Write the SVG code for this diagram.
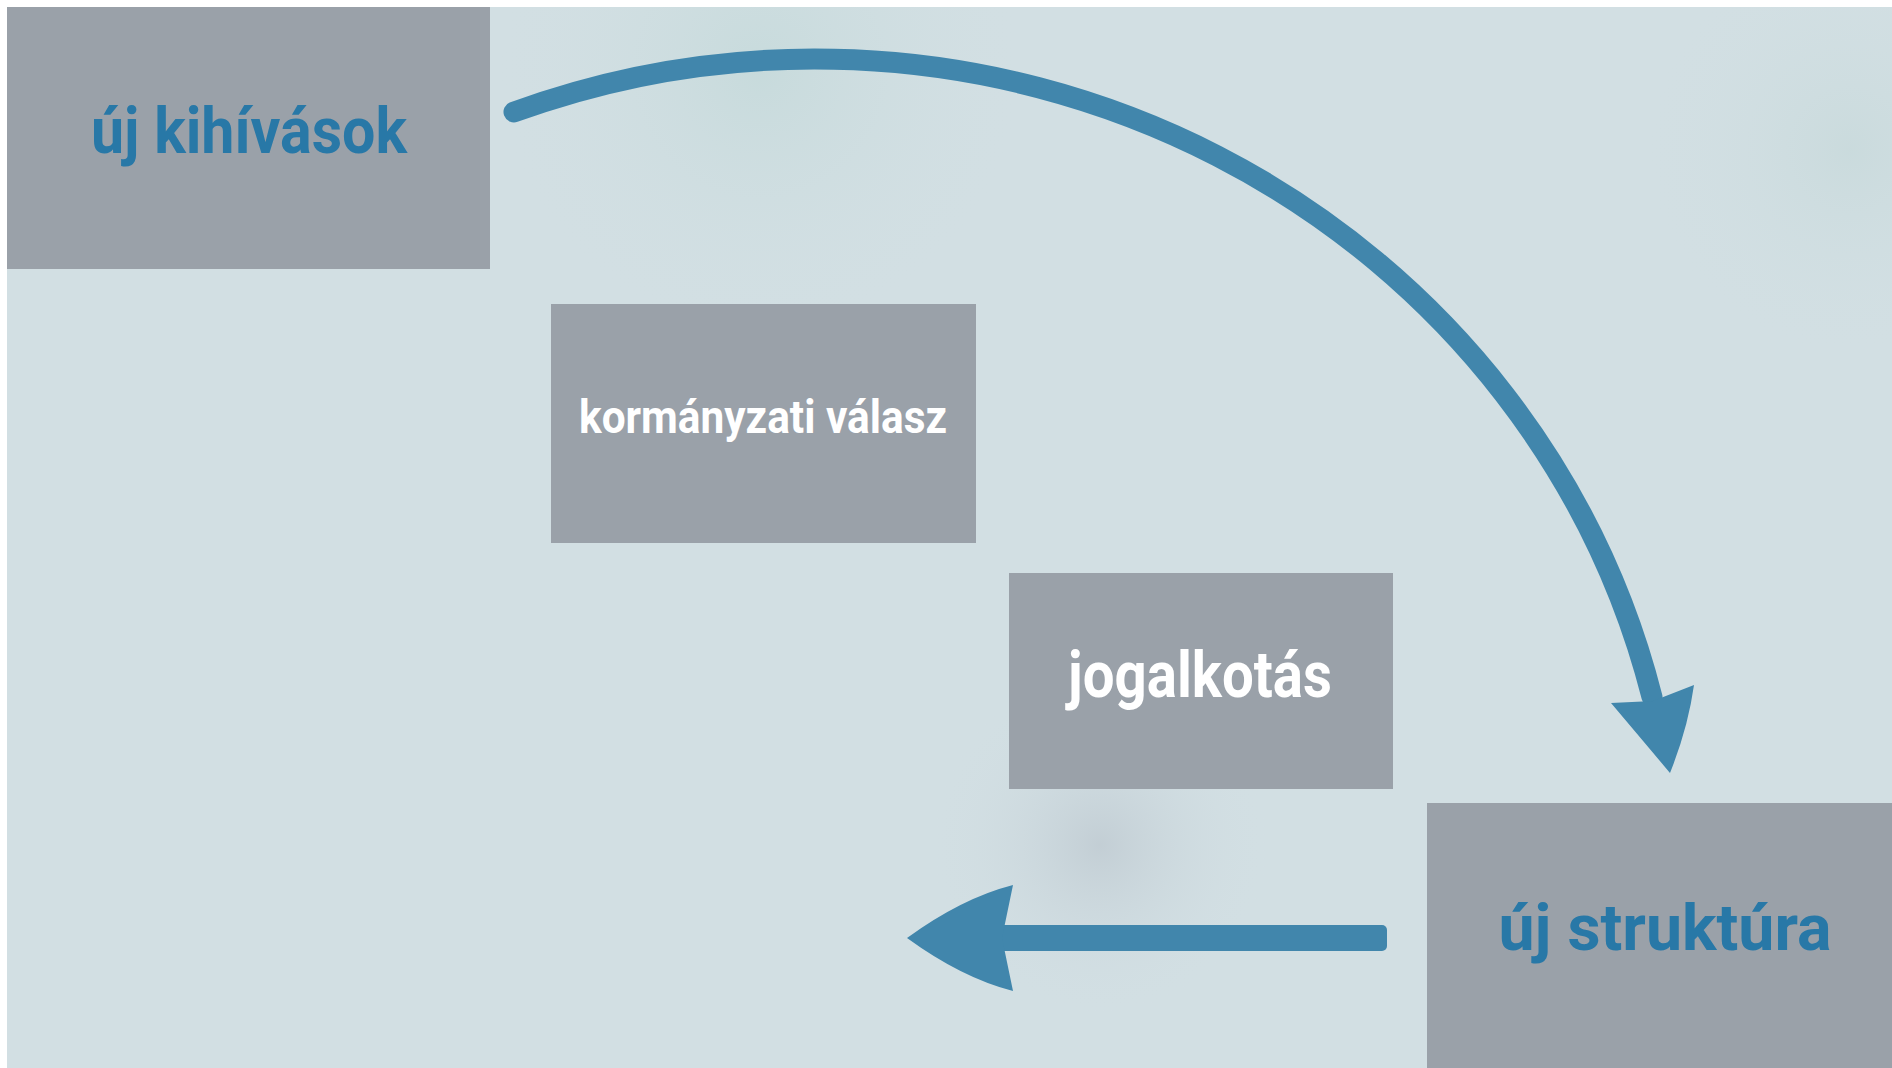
<svg xmlns="http://www.w3.org/2000/svg" width="1892" height="1068" viewBox="0 0 1892 1068">
<style>
.box{fill:#9aa1a9}
.lbl{font-family:Roboto,"Open Sans","Liberation Sans",sans-serif;font-weight:700;text-anchor:middle}
.blue{fill:#2878a7}
.white{fill:#ffffff}
.arrow{fill:#4186ac}
.shaft{fill:none;stroke:#4186ac;stroke-width:21;stroke-linecap:round;stroke-linejoin:round}
</style>
<defs>
<radialGradient id="spot1" cx="1100" cy="845" r="170" gradientUnits="userSpaceOnUse">
<stop offset="0" stop-color="#c0cbd2" stop-opacity="0.85"/>
<stop offset="1" stop-color="#d3dfe4" stop-opacity="0"/>
</radialGradient>
<radialGradient id="spot2" cx="760" cy="70" r="260" gradientUnits="userSpaceOnUse">
<stop offset="0" stop-color="#c6dadb" stop-opacity="0.9"/>
<stop offset="1" stop-color="#d1dfe2" stop-opacity="0"/>
</radialGradient>
<radialGradient id="spot3" cx="1850" cy="150" r="200" gradientUnits="userSpaceOnUse">
<stop offset="0" stop-color="#c9dadc" stop-opacity="0.9"/>
<stop offset="1" stop-color="#d1dfe2" stop-opacity="0"/>
</radialGradient>
</defs>
<rect x="0" y="0" width="1892" height="1068" fill="#ffffff"/>
<rect x="7" y="7" width="1885" height="1061" fill="#d2dfe3"/>
<rect x="7" y="7" width="1885" height="1061" fill="url(#spot2)"/>
<rect x="7" y="7" width="1885" height="1061" fill="url(#spot3)"/>
<rect x="7" y="7" width="1885" height="1061" fill="url(#spot1)"/>

<g id="connectors">
<path class="shaft" d="M514,112 A862,840 0 0 1 1652,697"/>
<path class="arrow" d="M1670,773 Q1644,742 1611,703 L1653,701 L1694,685 Q1688,728 1670,773 Z"/>
<rect class="arrow" x="995" y="925" width="392" height="26" rx="5"/>
<path class="arrow" d="M907,938 Q962,898 1013,885 L1002,938 L1013,991 Q962,978 907,938 Z"/>
</g>

<g id="node-uj-kihivasok">
<rect class="box" x="7" y="7" width="483" height="262"/>
<text class="lbl blue" x="249" y="153" font-size="64" textLength="316" lengthAdjust="spacingAndGlyphs">új kihívások</text>
</g>
<g id="node-kormanyzati-valasz">
<rect class="box" x="551" y="304" width="425" height="239"/>
<text class="lbl white" x="763" y="433" font-size="46" textLength="368" lengthAdjust="spacingAndGlyphs">kormányzati válasz</text>
</g>
<g id="node-jogalkotas">
<rect class="box" x="1009" y="573" width="384" height="216"/>
<text class="lbl white" x="1200" y="697" font-size="64" textLength="264" lengthAdjust="spacingAndGlyphs">jogalkotás</text>
</g>
<g id="node-uj-struktura">
<rect class="box" x="1427" y="803" width="465" height="265"/>
<text class="lbl blue" x="1665" y="950" font-size="64" textLength="333" lengthAdjust="spacingAndGlyphs">új struktúra</text>
</g>
</svg>
